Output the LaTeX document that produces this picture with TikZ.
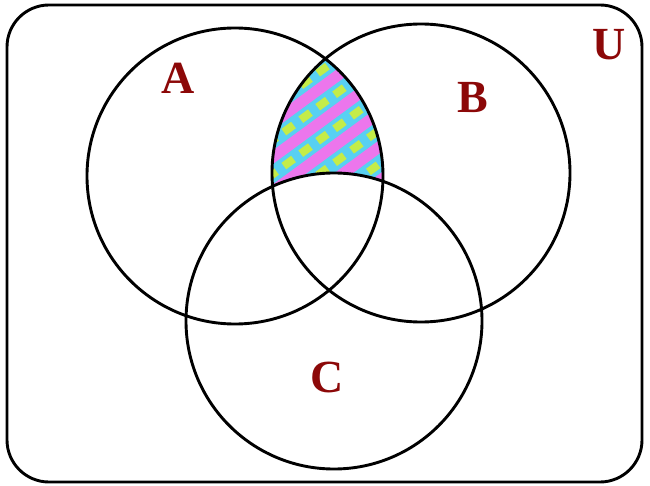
\documentclass[tikz,border=0pt]{standalone}
\usepackage{fontspec}
\setmainfont{Liberation Serif}
\usepackage{xcolor}
\definecolor{maroon}{RGB}{140,8,8}
\definecolor{skyfill}{RGB}{88,208,242}
\definecolor{orchid}{RGB}{236,118,236}
\definecolor{lime}{RGB}{196,236,72}
\usetikzlibrary{positioning}
\tikzset{
  setline/.style={draw=black, line width=2.9pt},
  setlabel/.style={font=\fontsize{46}{46}\selectfont\bfseries,
                   text=maroon, inner sep=0pt},
}

\begin{document}
\begin{tikzpicture}[x=1pt,y=-1pt]
\useasboundingbox (0,0) rectangle (650,486);
% centres of the three sets
\coordinate (cA) at (235,176);
\coordinate (cB) at (421,173);
\coordinate (cC) at (334,321);

% shaded part: A and B, not C
\begin{scope}
  \clip (cA) circle[radius=148];
  \clip (cB) circle[radius=149];
  \fill[skyfill] (250,0) rectangle (420,220);
  \foreach \k in {0,...,7}{
    \draw[lime, line width=8pt, dash pattern=on 12pt off 9pt]
      (250,55+34*\k) -- ++(170,-125);
    \draw[orchid, line width=11pt, line cap=round]
      (250,38+34*\k) -- ++(170,-125);
  }
\end{scope}
\fill[white] (cC) circle[radius=148];

% universe and sets
\draw[setline, rounded corners=42pt] (7,5) rectangle (642,482);
\draw[setline] (cA) circle[radius=148];
\draw[setline] (cB) circle[radius=149];
\draw[setline] (cC) circle[radius=148];

% labels
\node[setlabel] (labA) at (178,78) {A};
\node[setlabel] (labB) at (473,98) {B};
\node[setlabel] (labC) at (327,377) {C};
\node[setlabel] (labU) at (609,45) {U};
\end{tikzpicture}
\end{document}
